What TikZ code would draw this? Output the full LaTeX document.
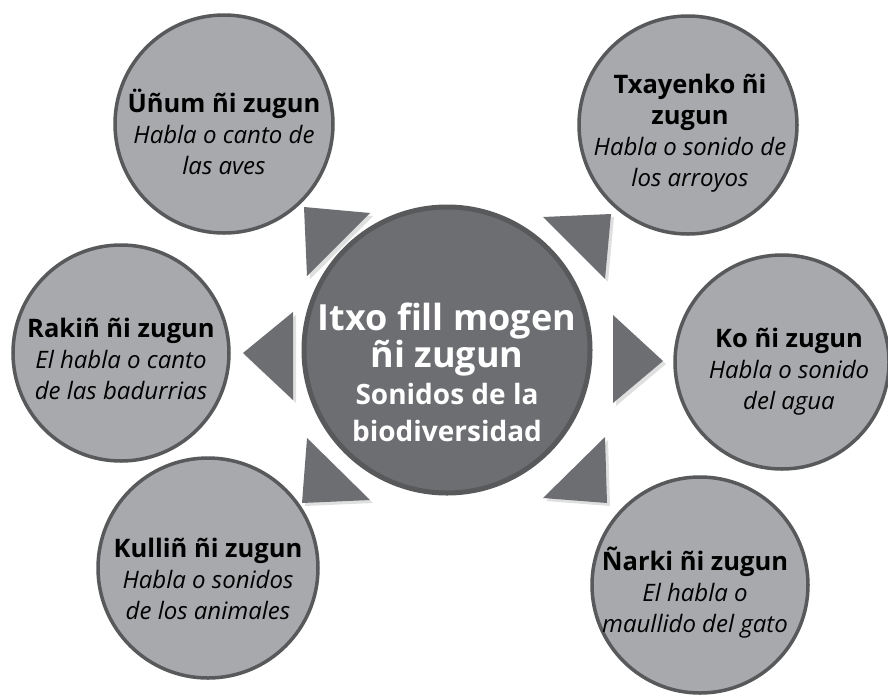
\documentclass[tikz,border=0pt]{standalone}
\usepackage{fontspec}
\setmainfont{Open Sans}
\usetikzlibrary{shadows}
\definecolor{sat}{HTML}{A7A9AC}
\definecolor{rim}{HTML}{58595B}
\definecolor{core}{HTML}{6D6E71}
\definecolor{tri}{HTML}{6D6E72}
\newcommand{\sathead}[1]{{\fontsize{25.5}{31}\selectfont\bfseries #1}}
\begin{document}
\begin{tikzpicture}[x=1pt,y=-1pt,
  satellite/.style={circle, fill=sat, draw=rim, line width=3.5pt, minimum size=#1, inner sep=0pt},
  hub/.style={circle, fill=core, draw=rim, line width=5pt, minimum size=#1, inner sep=0pt},
  pointer/.style={fill=tri, drop shadow={shadow xshift=3pt, shadow yshift=-3pt, opacity=0.25}},
  satlabel/.style={anchor=base, text width=240pt, align=flush center, inner sep=0pt, text=black,
    font=\fontsize{24}{31}\selectfont},
  hublabel/.style={anchor=base, text width=300pt, align=flush center, inner sep=0pt, text=white,
    font=\fontsize{28}{37}\selectfont}]
\useasboundingbox (0,0) rectangle (888,697);
\fill[white] (0,0) rectangle (888,697);

% satellites
\node[satellite=218pt] (A) at (224,124) {};
\node[satellite=218pt] (B) at (688,125) {};
\node[satellite=216pt] (C) at (121,353) {};
\node[satellite=214pt] (D) at (782,362) {};
\node[satellite=220pt] (E) at (208,568) {};
\node[satellite=216pt] (F) at (700,585) {};

% hub
\node[hub=286pt] (H) at (447,350) {};

% pointers
\fill[pointer] (304,207) -- (370,213) -- (307,276) -- cycle;
\fill[pointer] (543,217) -- (611,214) -- (605,279) -- cycle;
\fill[pointer] (243,353) -- (293,312) -- (293,400) -- cycle;
\fill[pointer] (613,315) -- (663,361) -- (613,403) -- cycle;
\fill[pointer] (307,438) -- (370,500) -- (302,503) -- cycle;
\fill[pointer] (605,437) -- (607,503) -- (543,498) -- cycle;

% labels
\node[satlabel] (tA) at (224,112) {\sathead{Üñum ñi zugun}\\ \itshape Habla o canto de\\ las aves};
\node[satlabel] (tB) at (690,93) {\sathead{Txayenko ñi\\ zugun}\\ \itshape Habla o sonido de\\ los arroyos};
\node[satlabel] (tC) at (121,337) {\sathead{Rakiñ ñi zugun}\\ \itshape El habla o canto\\ de las badurrias};
\node[satlabel] (tD) at (789,347) {\sathead{Ko ñi zugun}\\ \itshape Habla o sonido\\ del agua};
\node[satlabel] (tE) at (208,557) {\sathead{Kulliñ ñi zugun}\\ \itshape Habla o sonidos\\ de los animales};
\node[satlabel] (tF) at (695,570) {\sathead{Ñarki ñi zugun}\\ \itshape El habla o\\ maullido del gato};
\node[hublabel] (tH) at (447,330) {\fontsize{36}{27}\selectfont\bfseries Itxo fill mogen\\ ñi zugun\par
  \fontsize{28}{37}\selectfont Sonidos de la\\ biodiversidad\par};
\end{tikzpicture}
\end{document}
